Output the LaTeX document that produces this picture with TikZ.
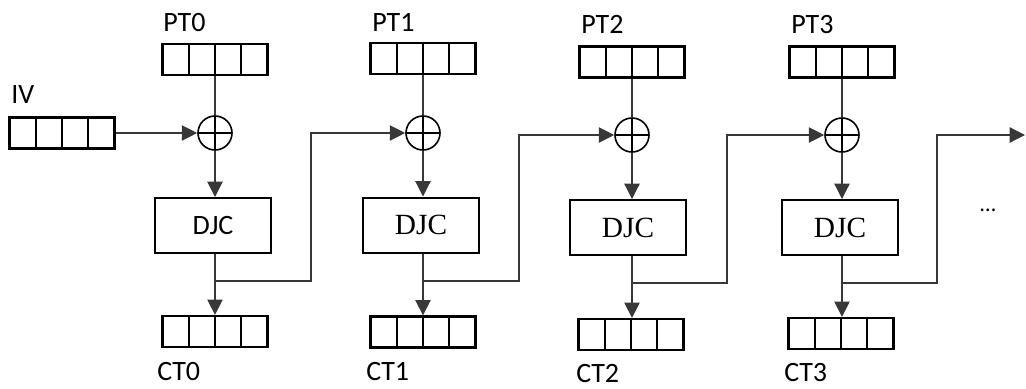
\documentclass[tikz,border=0pt]{standalone}
\usepackage{fontspec}
\setmainfont{Carlito}
\newfontfamily\djcserif{Liberation Serif}
\usetikzlibrary{arrows.meta,calc}
\begin{document}
\begin{tikzpicture}[x=0.75pt,y=-0.75pt,
  reg/.style={draw, line width=1.7pt, minimum width=78.75pt, minimum height=23.25pt, inner sep=0pt,
    path picture={\foreach \f in {0.25,0.5,0.75}{\draw[line width=1.7pt]
      ($(path picture bounding box.north west)!\f!(path picture bounding box.north east)$) --
      ($(path picture bounding box.south west)!\f!(path picture bounding box.south east)$);}}},
  xorc/.style={draw, circle, line width=1.2pt, minimum size=25.5pt, inner sep=0pt,
    path picture={\draw[line width=1.2pt] (path picture bounding box.north) -- (path picture bounding box.south)
      (path picture bounding box.west) -- (path picture bounding box.east);}},
  cipher/.style={draw, line width=1.5pt, minimum width=87pt, minimum height=41.25pt, inner sep=0pt, font=\djcserif\fontsize{22}{26}\selectfont},
  lbl/.style={inner sep=0pt, anchor=west, font=\fontsize{21}{24}\selectfont},
  conn/.style={line width=0.9pt, draw=black!78},
  arr/.style={conn, -{Triangle[length=11.5pt,width=11.5pt]}}
]
\useasboundingbox (0,0) rectangle (1026,389);

% stage 0
\node[reg] (iv) at (62,133) {};
\node[lbl] (ivl) at (11,95) {IV};
\node[reg] (p0) at (215,59.5) {};
\node[lbl] (p0l) at (163,22.5) {PT0};
\node[xorc] (x0) at (215,133) {};
\node[cipher, font=\fontsize{21}{24}\selectfont] (d0) at (213,225.5) {DJC};
\coordinate (j0) at (215,281);
\node[reg] (c0) at (215,331.5) {};
\node[lbl] (c0l) at (157,372) {CT0};
\coordinate (f0) at (311,200);

% stage 1
\node[reg] (p1) at (423,58.5) {};
\node[lbl] (p1l) at (372,22) {PT1};
\node[xorc] (x1) at (423,133) {};
\node[cipher] (d1) at (421,225) {DJC};
\coordinate (j1) at (423,281);
\node[reg] (c1) at (423,332) {};
\node[lbl] (c1l) at (366,372) {CT1};
\coordinate (f1) at (519,200);

% stage 2
\node[reg] (p2) at (632,62) {};
\node[lbl] (p2l) at (581,24.5) {PT2};
\node[xorc] (x2) at (632,135) {};
\node[cipher] (d2) at (628,227.5) {DJC};
\coordinate (j2) at (632,283);
\node[reg] (c2) at (631,334.5) {};
\node[lbl] (c2l) at (576,373.5) {CT2};
\coordinate (f2) at (727,200);

% stage 3
\node[reg] (p3) at (842,62) {};
\node[lbl] (p3l) at (791,24.5) {PT3};
\node[xorc] (x3) at (842,135) {};
\node[cipher] (d3) at (840,227.5) {DJC};
\coordinate (j3) at (842,283);
\node[reg] (c3) at (841,333.5) {};
\node[lbl] (c3l) at (784,373) {CT3};
\coordinate (f3) at (937,200);
\coordinate (out) at (1025,135);
\node[inner sep=0pt, font=\fontsize{17}{19}\selectfont] (dots) at (988,210) {…};

% connectors
\draw[arr] (iv.east) -- (x0.west);
\foreach \i in {0,1,2,3}{
  \draw[conn] (p\i.south) -- (x\i.north);
  \draw[arr] (x\i.south) -- (x\i.south |- d\i.north);
  \draw[arr] (j\i |- d\i.south) -- (j\i |- c\i.north);
}
\draw[arr] (j0) -| (f0) |- (x1.west);
\draw[arr] (j1) -| (f1) |- (x2.west);
\draw[arr] (j2) -| (f2) |- (x3.west);
\draw[arr] (j3) -| (f3) |- (out);
\end{tikzpicture}
\end{document}
